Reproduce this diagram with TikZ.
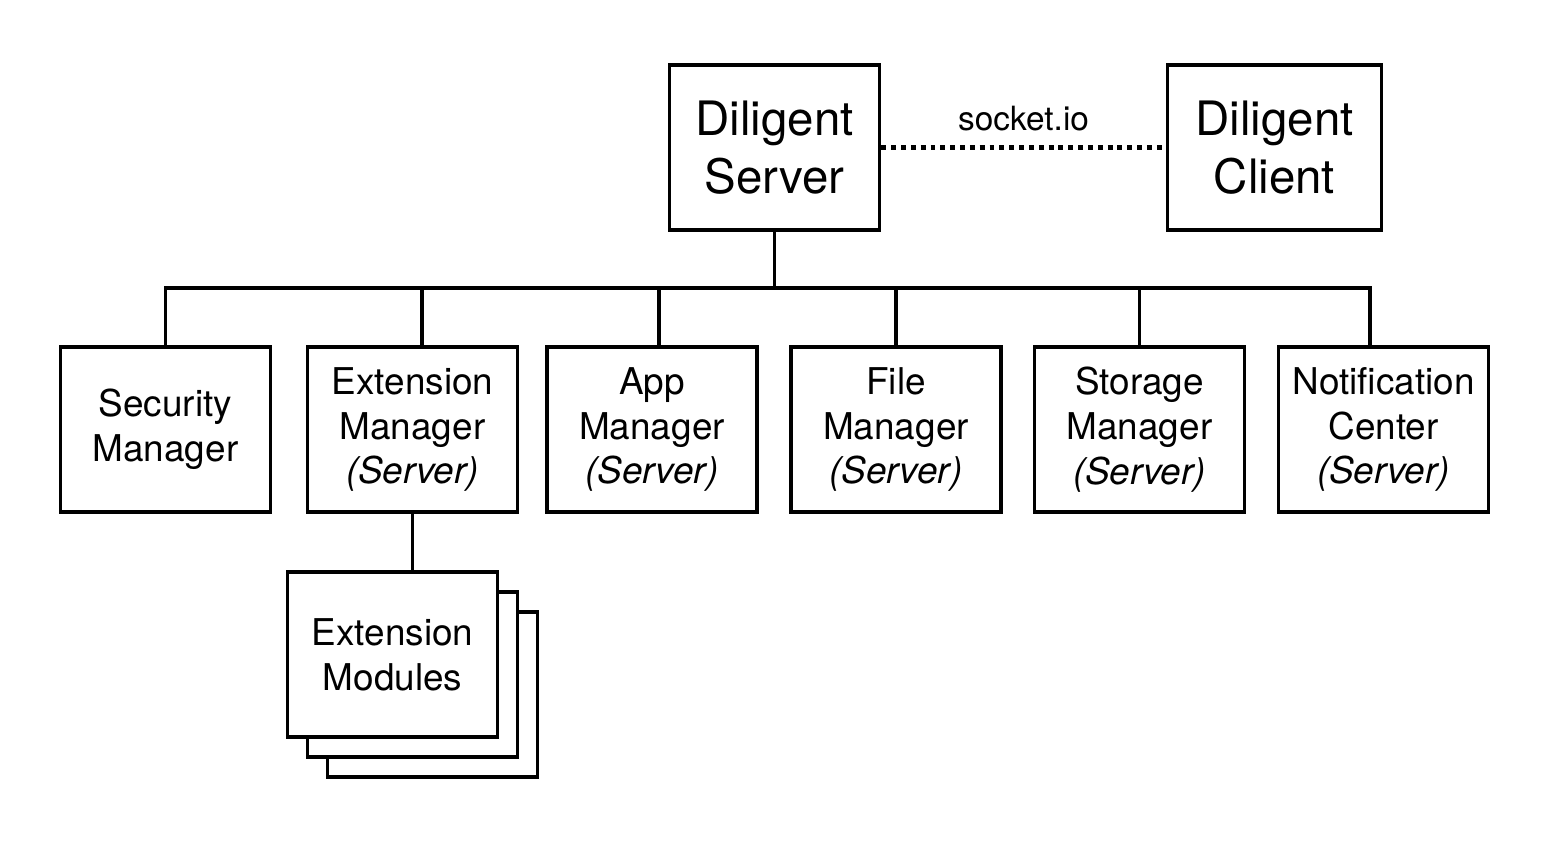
\documentclass[tikz,border=0pt]{standalone}
\usepackage{fontspec}
\setmainfont{TeX Gyre Heros}
\usetikzlibrary{positioning}

\begin{document}
\begin{tikzpicture}[x=0.02cm, y=-0.02cm, line width=2.1pt,
  box/.style={draw, fill=white, minimum width=4.2cm, minimum height=3.3cm, align=center, inner sep=0pt},
  part/.style={box, font=\fontsize{21}{25.5}\selectfont},
  main/.style={box, font=\fontsize{27}{33}\selectfont}]
        \useasboundingbox (0,0) rectangle (1544,840);
        % Server und Client
        \node[main] (srv) at (774.5,147.5) {Diligent\\Server};
        \node[main, minimum width=4.28cm] (cli) at (1274.5,147.5) {Diligent\\Client};
        \draw[line width=2.8pt, dash pattern=on 2.8pt off 2.8pt] (srv) -- (cli)
          node[midway, yshift=0.58cm, font=\fontsize{19}{23}\selectfont] (sock) {socket.io};
        % Manager
        \node[part] (sec) at (165.5,429.5) {Security\\Manager};
        \node[part] (ext) at (412.5,429.5) {Extension\\Manager\\\textit{(Server)}};
        \node[part] (app) at (652,429.5) {App\\Manager\\\textit{(Server)}};
        \node[part] (file) at (896,429.5) {File\\Manager\\\textit{(Server)}};
        \node[part] (stor) at (1139.5,429.5) {Storage\\Manager\\\textit{(Server)}};
        \node[part] (noti) at (1383.5,429.5) {Notification\\Center\\\textit{(Server)}};
        % Verbindungen
        \coordinate (bus) at (774,288);
        \draw (srv) -- (srv |- bus);
        \draw (sec.north) |- ([xshift=-0.27cm]noti.north |- bus) -- ([xshift=-0.27cm]noti.north);
        \draw ([xshift=0.19cm]ext.north) -- ([xshift=0.19cm]ext.north |- bus);
        \draw ([xshift=0.14cm]app.north) -- ([xshift=0.14cm]app.north |- bus);
        \draw (file.north) -- (file.north |- bus);
        \draw (stor.north) -- (stor.north |- bus);
        % Module (Stapel)
        \node[box] (mod3) at (432.5,694.5) {};
        \node[box] (mod2) at (412.5,674.5) {};
        \node[part] (mod1) at (392.5,654.5) {Extension\\Modules};
        \draw (ext.south) -- (ext.south |- mod1.north);
\end{tikzpicture}
\end{document}
